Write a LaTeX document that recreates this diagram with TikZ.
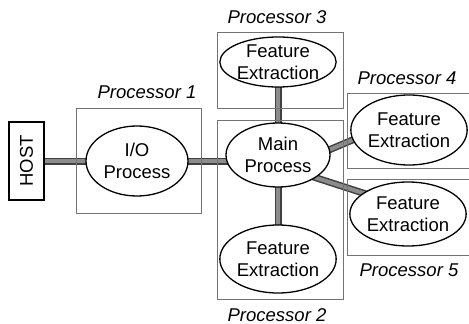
\documentclass[tikz,border=0pt]{standalone}
\usepackage{fontspec}
\setmainfont{Liberation Sans}
\usetikzlibrary{shapes.geometric}
\pgfdeclarelayer{background}
\pgfsetlayers{background,main}
\tikzset{
  task/.style={ellipse, draw=black, line width=1.3pt, fill=white, inner sep=0pt,
    align=center, font=\fontsize{18.5}{22}\selectfont},
  procbox/.style={draw=black!55, line width=0.7pt},
  proclabel/.style={font=\fontsize{18.5}{20}\selectfont\itshape, inner sep=0pt},
  linkouter/.style={draw=black!75, line width=7pt, shorten <=-5pt, shorten >=-5pt},
  linkinner/.style={draw=black!45, line width=4pt, shorten <=-5pt, shorten >=-5pt},
}
\newcommand{\busline}[2]{%
  \draw[linkouter] #1 -- #2;
  \draw[linkinner] #1 -- #2;}
\begin{document}
\begin{tikzpicture}[x=1pt,y=-1pt]
  \useasboundingbox (0,0) rectangle (469,324);

  % processor boundaries
  \draw[procbox] (76,108) rectangle (201,213);
  \draw[procbox] (217,32) rectangle (343,108);
  \draw[procbox] (217,120) rectangle (343,299);
  \draw[procbox] (347,93) rectangle (480,168);
  \draw[procbox] (347,179) rectangle (480,255);

  % processor names
  \node[proclabel] (l1) at (147,92) {Processor 1};
  \node[proclabel] (l3) at (277,17) {Processor 3};
  \node[proclabel] (l4) at (407,78) {Processor 4};
  \node[proclabel] (l2) at (277,315) {Processor 2};
  \node[proclabel] (l5) at (409,270) {Processor 5};

  % host
  \node[draw=black, line width=1.3pt, fill=white, minimum width=78pt, minimum height=35pt,
        rotate=90, inner sep=0pt, font=\fontsize{18.5}{20}\selectfont] (host) at (26.5,161) {HOST};

  % tasks
  \node[task, minimum width=102pt, minimum height=70pt] (io) at (137,161) {I/O\\Process};
  \node[task, minimum width=104pt, minimum height=64pt] (main) at (278,155) {Main\\Process};
  \node[task, minimum width=108pt, minimum height=50pt] (fe3) at (278,62) {Feature\\Extraction};
  \node[task, minimum width=100pt, minimum height=68pt] (fe2) at (278,259) {Feature\\Extraction};
  \node[task, minimum width=112pt, minimum height=70pt] (fe4) at (409,130) {Feature\\Extraction};
  \node[task, minimum width=110pt, minimum height=64pt] (fe5) at (408,214) {Feature\\Extraction};

  % communication links
  \begin{pgfonlayer}{background}
    \busline{(host.center)}{(io.center)}
    \busline{(io.center)}{(io.center -| main.center)}
    \busline{(fe3.center)}{(fe3.center |- main.center)}
    \busline{(main.center -| fe2.center)}{(fe2.center)}
    \busline{(main.6)}{(fe4.190)}
    \busline{(main.-31)}{(fe5.155)}
  \end{pgfonlayer}
\end{tikzpicture}
\end{document}
